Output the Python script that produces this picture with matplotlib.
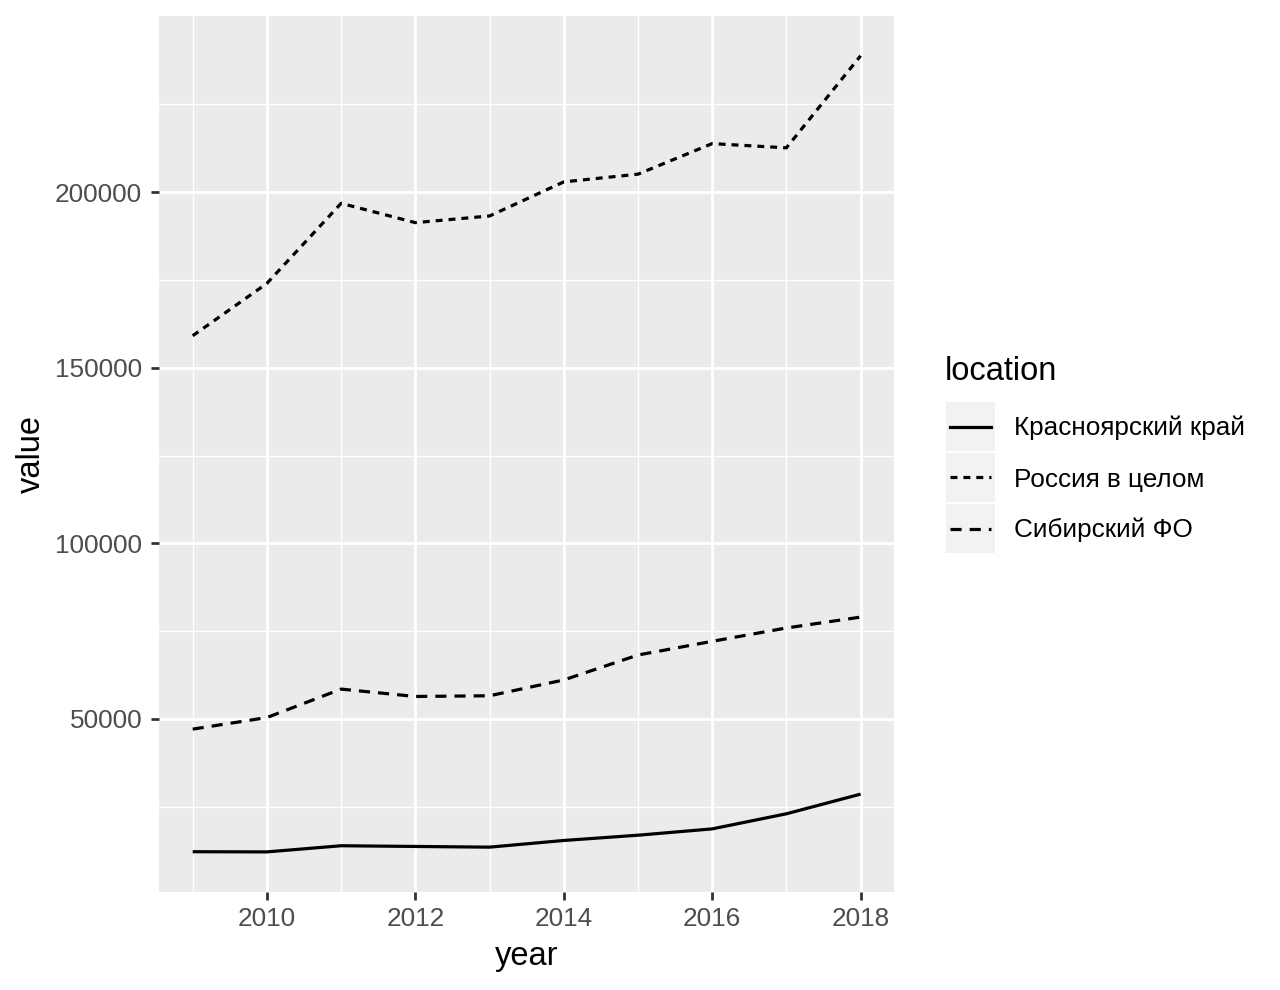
import matplotlib
matplotlib.use("Agg")
import matplotlib.pyplot as plt
from matplotlib.lines import Line2D
from matplotlib.patches import Rectangle

plt.rcParams['font.family'] = ['Liberation Sans', 'DejaVu Sans']
plt.rcParams['lines.scale_dashes'] = False

# data
years = [2009, 2010, 2011, 2012, 2013, 2014, 2015, 2016, 2017, 2018]
krasnoyarsk = [12200, 12150, 13900, 13700, 13500, 15400, 16900, 18700, 23000, 28600]
russia = [159100, 174000, 196800, 191300, 193200, 202900, 205100, 213800, 212600, 238800]
siberia = [47100, 50400, 58500, 56400, 56600, 61100, 68200, 72100, 75900, 79000]

series_names = ["Красноярский край", "Россия в целом", "Сибирский ФО"]
series_values = [krasnoyarsk, russia, siberia]
x_ticks = [2010, 2012, 2014, 2016, 2018]
y_ticks = [50000, 100000, 150000, 200000]

# line styles (ggplot: solid, dotted, dashed)
styles = [dict(linestyle="-"),
          dict(linestyle=(0, (5, 4.3))),
          dict(linestyle=(0, (8, 5.8)))]
lw = 2.3

W, H = 1280, 990
fig = plt.figure(figsize=(W / 100, H / 100), dpi=100)
fig.patch.set_facecolor("white")

# panel placement in pixels
pl, pr, pt, pb = 159.3, 894, 16, 891.7
ax = fig.add_axes([pl / W, 1 - pb / H, (pr - pl) / W, (pb - pt) / H])
ax.set_facecolor("#EBEBEB")
for s in ax.spines.values():
    s.set_visible(False)

for vals, st in zip(series_values, styles):
    ax.plot(years, vals, color="black", lw=lw, solid_capstyle="butt",
            dash_capstyle="butt", zorder=3, **st)

# ggplot style expansion (5%)
xmin, xmax = min(years), max(years)
xr = xmax - xmin
ax.set_xlim(xmin - 0.05 * xr, xmax + 0.05 * xr)
allv = krasnoyarsk + russia + siberia
ymin, ymax = min(allv), max(allv)
yr = ymax - ymin
ax.set_ylim(ymin - 0.05 * yr, ymax + 0.05 * yr)

ax.set_xticks(x_ticks)
ax.set_xticks([2009, 2011, 2013, 2015, 2017], minor=True)
ax.set_yticks(y_ticks)
ax.set_yticks([25000, 75000, 125000, 175000, 225000], minor=True)
ax.set_xticklabels([str(t) for t in x_ticks])
ax.set_yticklabels([str(t) for t in y_ticks])

ax.grid(which="major", color="white", lw=2.1, zorder=0)
ax.grid(which="minor", color="white", lw=1.0, zorder=0)
ax.set_axisbelow(True)

ax.tick_params(which="major", length=5.8, width=2.0, color="#333333",
               labelsize=18.8, labelcolor="#4D4D4D", pad=5)
ax.tick_params(axis="y", pad=6.5)
ax.tick_params(which="minor", length=0)

# axis titles
fig.text((pl + pr) / 2 / W, 1 - 957 / H, "year", fontsize=23.5,
         ha="center", va="center")
fig.text(31.7 / W, 1 - (pt + pb) / 2 / H, "value", fontsize=23.5,
         ha="center", va="center", rotation=90)

# legend drawn by hand, ggplot look
fig.text(945 / W, 1 - 380 / H, "location", fontsize=23.5, ha="left",
         va="baseline")
key_top = 401
key_h = 51
key_x0, key_w = 945, 51
for i, (name, st) in enumerate(zip(series_names, styles)):
    y0 = key_top + i * key_h
    fig.patches.append(Rectangle((key_x0 / W, 1 - (y0 + key_h) / H),
                                 key_w / W, key_h / H,
                                 transform=fig.transFigure,
                                 facecolor="#F2F2F2", edgecolor="white",
                                 lw=1.5))
    yc = 1 - (y0 + key_h / 2) / H
    fig.lines.append(Line2D([950 / W, 991 / W], [yc, yc],
                            transform=fig.transFigure, color="black",
                            lw=lw, dash_capstyle="butt", **st))
    fig.text(1014 / W, 1 - (y0 + key_h / 2 + 9) / H, name, fontsize=18.8,
             ha="left", va="baseline")

fig.savefig("out.png", dpi=100)
